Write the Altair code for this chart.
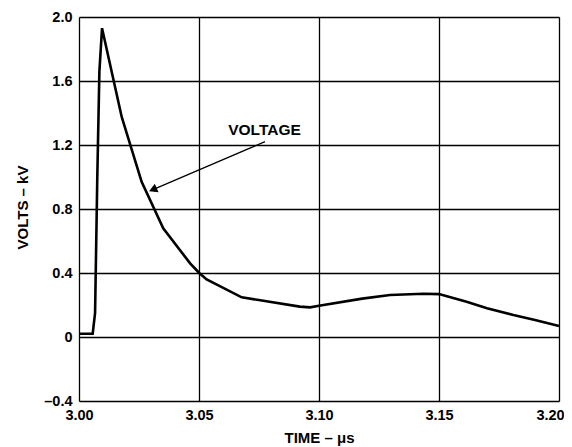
import altair as alt
import pandas as pd

# Voltage waveform (time in µs, volts in kV)
times = [3.000, 3.0057, 3.0067, 3.0076, 3.0085, 3.0096, 3.0178, 3.0261, 3.0351,
         3.0463, 3.0501, 3.0532, 3.0678, 3.0920, 3.0963, 3.1000, 3.1180, 3.1296,
         3.1435, 3.1500, 3.1615, 3.1700, 3.1810, 3.1900, 3.2000]
volts = [0.02, 0.02, 0.15, 0.98, 1.66, 1.93, 1.375, 0.97, 0.68,
         0.46, 0.40, 0.36, 0.248, 0.19, 0.185, 0.195, 0.24, 0.2625,
         0.27, 0.268, 0.22, 0.18, 0.137, 0.106, 0.069]

x_ticks = [3.00, 3.05, 3.10, 3.15, 3.20]
y_ticks = [-0.4, 0, 0.4, 0.8, 1.2, 1.6, 2.0]

# annotation
label_text = ["VOLTAGE"]
label_t = [3.0773]
label_v = [1.294]
arrow_t = [3.0775]
arrow_v = [1.221]
arrow_t2 = [3.0308]
arrow_v2 = [0.921]

FONT = "Liberation Sans"

df = pd.DataFrame({"t": times, "v": volts})
lab = pd.DataFrame({"t": label_t, "v": label_v, "text": label_text})
arr = pd.DataFrame({"t": arrow_t, "v": arrow_v, "t2": arrow_t2, "v2": arrow_v2})

xscale = alt.Scale(domain=[3.0, 3.2], nice=False, zero=False)
yscale = alt.Scale(domain=[-0.4, 2.0], nice=False, zero=False)

xaxis = alt.Axis(values=x_ticks, format=".2f", title="TIME – μs",
                 grid=True, gridColor="black", gridWidth=1.3, gridOpacity=1,
                 ticks=False, domain=False, labelFont=FONT, labelFontSize=14.5,
                 labelFontWeight="bold", labelColor="black", labelPadding=7,
                 labelFlush=False, labelOverlap=False,
                 labelOffset={"condition": {"test": "datum.value >= 3.19", "value": -9}, "value": 0},
                 titleFont=FONT, titleFontSize=15, titleFontWeight="bold",
                 titleColor="black", titleY=36, titleBaseline="middle")
yaxis = alt.Axis(values=y_ticks, title="VOLTS – kV",
                 labelExpr="datum.value == 0 ? '0' : (datum.value < 0 ? '–' + format(-datum.value, '.1f') : format(datum.value, '.1f'))",
                 grid=True, gridColor="black", gridWidth=1.3, gridOpacity=1,
                 ticks=False, domain=False, labelFont=FONT, labelFontSize=14.5,
                 labelFontWeight="bold", labelColor="black", labelPadding=7,
                 labelFlush=False, labelOverlap=False,
                 titleFont=FONT, titleFontSize=15, titleFontWeight="bold",
                 titleColor="black", titleX=-57, titleY=190, titleBaseline="middle",
                 titleAngle=270, titleAlign="center")

line = alt.Chart(df).mark_line(color="black", strokeWidth=2.6, strokeJoin="miter").encode(
    x=alt.X("t:Q", scale=xscale, axis=xaxis),
    y=alt.Y("v:Q", scale=yscale, axis=yaxis),
)

text = alt.Chart(lab).mark_text(font=FONT, fontSize=15.5, fontWeight="bold",
                                color="black", align="center", baseline="middle").encode(
    x=alt.X("t:Q", scale=xscale), y=alt.Y("v:Q", scale=yscale), text="text:N")

shaft = alt.Chart(arr).mark_rule(color="black", strokeWidth=1.3).encode(
    x=alt.X("t:Q", scale=xscale), y=alt.Y("v:Q", scale=yscale),
    x2="t2:Q", y2="v2:Q")

head = alt.Chart(arr).mark_point(shape="triangle-left", filled=True, color="black",
                                 size=90, angle=336.4, opacity=1).encode(
    x=alt.X("t2:Q", scale=xscale), y=alt.Y("v2:Q", scale=yscale))

chart = alt.layer(line, shaft, head, text).properties(
    width=480, height=384,
    autosize=alt.AutoSizeParams(type="none"),
    padding={"left": 71, "top": 9, "right": 5, "bottom": 46},
).configure_view(stroke="black", strokeWidth=2.2).configure(background="white")

chart.save("out.html", embed_options={"renderer": "svg", "actions": False})
